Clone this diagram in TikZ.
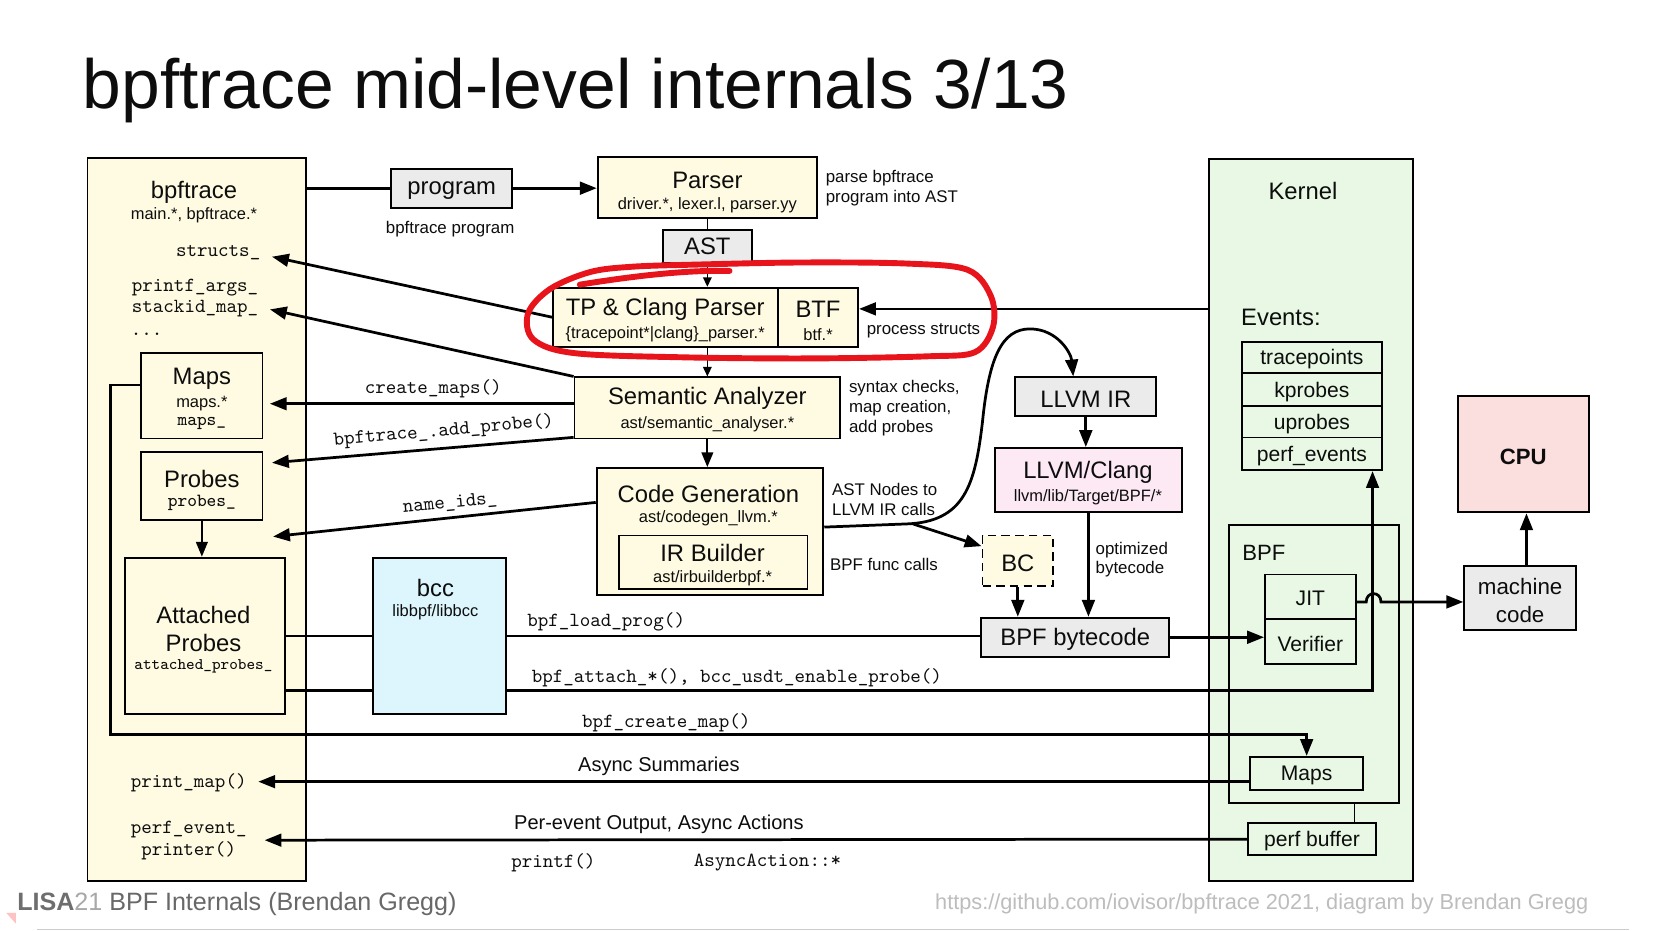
\documentclass[tikz,border=0pt]{standalone}
\usepackage{fontspec}
\setmainfont{Liberation Sans}
\usetikzlibrary{arrows.meta,fit,calc}
\definecolor{yel}{HTML}{FFFBE2}
\definecolor{gry}{HTML}{EBEBEB}
\definecolor{grn}{HTML}{E8F8E4}
\definecolor{pnk}{HTML}{FDE9F4}
\definecolor{cpuc}{HTML}{FBDEDE}
\definecolor{cyn}{HTML}{DDF5FC}
\definecolor{redm}{HTML}{E8141C}
\definecolor{fa}{HTML}{6E6E6E}
\definecolor{fb}{HTML}{A8A8A8}
\definecolor{fc}{HTML}{686868}
\definecolor{fd}{HTML}{BDBDBD}
\begin{document}
\begin{tikzpicture}[x=0.5pt,y=-0.5pt,
  bx/.style={draw=black,line width=0.9pt,inner sep=0pt},
  conn/.style={line width=1.3pt},
  thinc/.style={line width=0.8pt},
  medc/.style={line width=1.1pt},
  arrbig/.style={-{Triangle[length=8pt,width=6pt]}},
  arrsm/.style={-{Triangle[length=4.5pt,width=4pt]}},
  arrmd/.style={-{Triangle[length=7pt,width=5.5pt]}},
  txt/.style={inner sep=0pt,text=black!95,yshift=-1pt},
  tttl/.style={txt,font=\fontsize{11.3}{13}\selectfont},
  tsub/.style={txt,font=\fontsize{7.8}{9}\selectfont},
  tlab/.style={txt,font=\fontsize{8}{9.5}\selectfont},
  tmono/.style={txt,font=\ttfamily\fontsize{9.5}{11}\selectfont},
  tmonos/.style={txt,font=\ttfamily\fontsize{8.8}{10}\selectfont},
  tev/.style={txt,font=\fontsize{10}{12}\selectfont},
  tbig/.style={txt,font=\fontsize{9.5}{11}\selectfont},
]
\useasboundingbox (0,0) rectangle (1569,883);
\fill[white] (0,0) rectangle (1569,883);

% title
\node[inner sep=0pt,anchor=base west,font=\fontsize{33}{40}\selectfont,text=black!95] (title) at (78,103) {bpftrace mid-level internals 3/13};

% ---------- boxes ----------
\node[bx,fill=yel,fit={(83,150)(290,836)}] (bt) {};
\node[bx,fill=grn,fit={(1147,151)(1340,836)}] (kern) {};
\node[bx,fill=gry,fit={(371,160)(486,197)}] (prog) {};
\node[bx,fill=yel,fit={(567,149)(775,207)}] (parser) {};
\node[bx,fill=gry,fit={(629,218)(713,249)}] (ast) {};
\node[bx,fill=yel,fit={(525,273)(738,329)}] (tp) {};
\node[bx,fill=yel,fit={(738,273)(814,329)}] (btf) {};
\node[bx,fill=yel,fit={(545,358)(797,416)}] (sem) {};
\node[bx,fill=yel,fit={(566,444)(781,564)}] (cg) {};
\node[bx,fill=yel,fit={(587,508)(766,559)}] (irb) {};
\node[bx,fill=cyn,fit={(354,529)(480,677)}] (bcc) {};
\node[bx,fill=yel,fit={(134,335)(249,416)}] (maps) {};
\node[bx,fill=yel,fit={(134,429)(249,493)}] (probes) {};
\node[bx,fill=yel,fit={(119,529)(270,677)}] (att) {};
\node[bx,fill=gry,fit={(963,358)(1097,395)}] (llvmir) {};
\node[bx,fill=pnk,fit={(944,425)(1121,486)}] (llvm) {};
\node[bx,fill=yel,dash pattern=on 4pt off 2.5pt,fit={(932,508)(999,556)}] (bc) {};
\node[bx,fill=gry,fit={(931,586)(1109,623)}] (bcode) {};
\node[bx,fit={(1178,324)(1311,354)}] (ev1) {};
\node[bx,fit={(1178,354)(1311,385)}] (ev2) {};
\node[bx,fit={(1178,385)(1311,415)}] (ev3) {};
\node[bx,fit={(1178,415)(1311,446)}] (ev4) {};
\node[bx,fit={(1166,498)(1327,762)}] (bpf) {};
\node[bx,fit={(1200,545)(1286,587)}] (jit) {};
\node[bx,fit={(1200,587)(1286,630)}] (ver) {};
\node[bx,fit={(1186,718)(1293,749)}] (kmaps) {};
\node[bx,fit={(1184,781)(1305,811)}] (pbuf) {};
\node[bx,fill=cpuc,fit={(1383,376)(1507,486)}] (cpu) {};
\node[bx,fill=gry,fit={(1389,537)(1495,598)}] (mc) {};

% ---------- helper coordinates ----------
\coordinate (structsE) at (258,243.5);
\coordinate (stackE) at (256,293.5);
\coordinate (mapsE) at (256,383);
\coordinate (probesE) at (258,439);
\coordinate (nameE) at (259,509);
\coordinate (pmE) at (245,741.5);
\coordinate (peE) at (251,797);
\coordinate (btfa) at ($(btf.east)+(0,-8)$);
\coordinate (cmS) at ($(sem.west)+(0,-4)$);
\coordinate (apS) at ($(sem.south west)+(0,-2)$);
\coordinate (niS) at ($(cg.north west)+(0,33.5)$);
\coordinate (cgR) at ($(cg.east)+(0,-4)$);
\coordinate (br) at (866,497);
\coordinate (irin) at ($(llvmir.north west)+(56,0)$);
\coordinate (bcin) at ($(bc.north west)+(0,11)$);
\coordinate (mapsL) at ($(maps.north west)+(0,31)$);
\coordinate (lp) at (105,697);
\coordinate (attY) at (0,655);
\coordinate (evx) at (1302,655);
\coordinate (hopy) at (0,571);
\coordinate (mcx) at (1448,0);
\coordinate (pbx) at (1285,0);
\coordinate (pmS) at ($(kmaps.west)+(0,8)$);

% ---------- connectors ----------
\draw[conn] (prog.west -| bt.east) -- (prog.west);
\draw[conn,arrbig] (prog.east) -- (prog.east -| parser.west);
\draw[thinc] (parser.south -| ast.north) -- (ast.north);
\draw[thinc,arrsm] (ast.south) -- (ast.south |- tp.north);
\draw[thinc,arrsm] (ast.south |- tp.south) -- (ast.south |- sem.north);
\draw[line width=1pt,arrmd] (sem.south) -- (sem.south |- cg.north);
\draw[conn,arrbig] (btfa -| kern.west) -- (btfa);
\draw[conn,arrbig] (tp.west) -- (structsE);
\draw[conn,arrbig] (sem.north west) -- (stackE);
\draw[conn,arrbig] (cmS) -- (mapsE);
\draw[conn,arrbig] (apS) -- (probesE);
\draw[conn,arrbig] (niS) -- (nameE);
\draw[conn,arrbig] (mapsL) -| (lp) -- (lp -| kmaps.north) -- (kmaps.north);
\draw[line width=1pt,arrmd] (probes.south) -- (probes.south |- att.north);
\draw[medc] (att.east) -- (att.east -| bcc.west);
\draw[medc] (att.east -| bcc.east) -- (att.east -| bcode.west);
\draw[medc] (att.east |- attY) -- (bcc.west |- attY);
\draw[conn,arrbig] (bcc.east |- attY) -- (evx) -- (evx |- ev4.south);
\draw[conn,arrbig] (bcode.east) -- (bcode.east -| ver.west);
\draw[conn,arrbig] (jit.east |- hopy) -- (1296,571) .. controls (1296,560.5) and (1310,560.5) .. (1310,571) -- (mc.west |- hopy);
\draw[conn,arrbig] (mc.north -| mcx) -- (cpu.south -| mcx);
\draw[conn,arrbig] (llvmir.south) -- (llvmir.south |- llvm.north);
\draw[conn,arrbig] (llvm.south) -- (llvm.south |- bcode.north);
\draw[conn,arrbig] (bc.south) -- (bc.south |- bcode.north);
\draw[conn,arrbig] (cgR) -- (860,497) .. controls (915,495) and (925,460) .. (932,400) .. controls (938,340) and (950,312) .. (977,312) .. controls (1003,312) and (1016,335) .. (irin);
\draw[conn,arrbig] (br) -- (bcin);
\draw[conn,arrbig] (pmS) -- (pmE);
\draw[conn,arrbig] (pbuf.west) -- (peE);
\draw[thinc] (bpf.south -| pbx) -- (pbuf.north -| pbx);

% ---------- texts ----------
\node[tttl] (t-bt) at (184,180) {bpftrace};
\node[tsub] (t-bt2) at (184,202) {main.*, bpftrace.*};
\node[tmono] (t-structs) at (207,238) {structs\_};
\node[tmono] (t-pa) at (185,271) {printf\_args\_};
\node[tmono] (t-sm) at (185,291) {stackid\_map\_};
\node[tmono] (t-dots) at (139,315) {...};
\node[tttl] (t-maps) at (191.5,357) {Maps};
\node[tsub] (t-maps2) at (191.5,381) {maps.*};
\node[tmonos] (t-maps3) at (191.5,400) {maps\_};
\node[tttl] (t-probes) at (191.5,452) {Probes};
\node[tmonos] (t-probes2) at (191.5,475) {probes\_};
\node[tttl] (t-att1) at (193,581) {Attached};
\node[tttl] (t-att2) at (193,608) {Probes};
\node[txt,font=\ttfamily\fontsize{7.7}{9}\selectfont] (t-att3) at (193,630) {attached\_probes\_};
\node[tmono] (t-pm) at (179,741) {print\_map()};
\node[tmono] (t-pe1) at (179,785) {perf\_event\_};
\node[tmono] (t-pe2) at (179,805) {printer()};

\node[tttl] (t-prog) at (prog) {program};
\node[tlab] (t-bprog) at (427,215) {bpftrace program};
\node[tttl] (t-parser) at (671,169) {Parser};
\node[tsub] (t-parser2) at (671,193) {driver.*, lexer.l, parser.yy};
\node[tlab,anchor=west] (t-pp1) at (783,167) {parse bpftrace};
\node[tlab,anchor=west] (t-pp2) at (783,186) {program into AST};
\node[txt,font=\fontsize{11.3}{13}\selectfont] (t-ast) at ($(ast)+(0,-2)$) {AST};
\node[tttl] (t-tp) at (631,291) {TP \& Clang Parser};
\node[tsub] (t-tp2) at (631,315) {\{tracepoint*|clang\}\_parser.*};
\node[tttl] (t-btf) at (776,291) {BTF};
\node[tsub] (t-btf2) at (776,315) {btf.*};
\node[tlab] (t-ps) at (876,312) {process structs};
\node[tttl] (t-sem) at (671,376) {Semantic Analyzer};
\node[tsub] (t-sem2) at (671,400) {ast/semantic\_analyser.*};
\node[tlab,anchor=west] (t-sc1) at (805,366) {syntax checks,};
\node[tlab,anchor=west] (t-sc2) at (805,385) {map creation,};
\node[tlab,anchor=west] (t-sc3) at (805,404) {add probes};
\node[tmono] (t-cm) at (411,367) {create\_maps()};
\node[tmono,rotate=5] (t-ap) at (421,407) {bpftrace\_.add\_probe()};
\node[tmono,rotate=5.5] (t-ni) at (427,476) {name\_ids\_};
\node[tttl] (t-cg) at (672,467) {Code Generation};
\node[tsub] (t-cg2) at (672,490) {ast/codegen\_llvm.*};
\node[tttl] (t-irb) at (676,523) {IR Builder};
\node[tsub] (t-irb2) at (676,547) {ast/irbuilderbpf.*};
\node[tlab,anchor=west] (t-an1) at (789,462) {AST Nodes to};
\node[tlab,anchor=west] (t-an2) at (789,481) {LLVM IR calls};
\node[tlab,anchor=west] (t-bfc) at (787,533) {BPF func calls};
\node[tttl] (t-bcc) at (413,556) {bcc};
\node[tsub] (t-bcc2) at (413,579) {libbpf/libbcc};
\node[tmono] (t-blp) at (575,588) {bpf\_load\_prog()};
\node[tmono] (t-bat) at (699,641) {bpf\_attach\_*(), bcc\_usdt\_enable\_probe()};
\node[tmono] (t-bcm) at (632,684) {bpf\_create\_map()};
\node[tbig] (t-as) at (625,725) {Async Summaries};
\node[tbig] (t-peo) at (625,780) {Per-event Output, Async Actions};
\node[tmono] (t-pf) at (525,816) {printf()};
\node[tmono] (t-aa) at (728,816) {AsyncAction::*};

\node[tttl] (t-llvmir) at (llvmir) {LLVM IR};
\node[tttl] (t-llvm) at (1032,446) {LLVM/Clang};
\node[tsub] (t-llvm2) at (1032,470) {llvm/lib/Target/BPF/*};
\node[tttl] (t-bc) at (bc) {BC};
\node[tttl] (t-bcode) at (bcode) {BPF bytecode};
\node[tlab,anchor=west] (t-op1) at (1039,520) {optimized};
\node[tlab,anchor=west] (t-op2) at (1039,538) {bytecode};

\node[tttl] (t-kern) at (1236,179) {Kernel};
\node[tttl,anchor=west] (t-ev) at (1177,299) {Events:};
\node[tev] (t-ev1) at (ev1) {tracepoints};
\node[tev] (t-ev2) at (ev2) {kprobes};
\node[tev] (t-ev3) at (ev3) {uprobes};
\node[tev] (t-ev4) at (ev4) {perf\_events};
\node[txt,anchor=west,font=\fontsize{10.5}{12}\selectfont] (t-bpf) at (1178,522) {BPF};
\node[tev] (t-jit) at (jit) {JIT};
\node[tev] (t-ver) at (ver) {Verifier};
\node[tev] (t-kmaps) at (kmaps) {Maps};
\node[tev] (t-pbuf) at (pbuf) {perf buffer};
\node[txt,font=\bfseries\fontsize{10.5}{12}\selectfont] (t-cpu) at (cpu) {CPU};
\node[txt,font=\fontsize{10.6}{12}\selectfont] (t-mc1) at (1442,554) {machine};
\node[txt,font=\fontsize{10.6}{12}\selectfont] (t-mc2) at (1442,581) {code};

% ---------- footer ----------
\fill[fill=pink!80!red!60] (6,866) -- (15,866) -- (15,876) -- cycle;
\node[anchor=base west,inner sep=0pt,font=\fontsize{11.9}{13}\selectfont] (foot) at (16,864) {\textcolor{fa}{\bfseries LISA}\textcolor{fb}{21} \textcolor{fc}{BPF Internals (Brendan Gregg)}};
\node[anchor=base east,inner sep=0pt,font=\fontsize{10.3}{12}\selectfont,text=fd] (foot2) at (1507,863) {https://github.com/iovisor/bpftrace 2021, diagram by Brendan Gregg};
\draw[line width=0.6pt,black!20] (35,881.5) -- (1545,881.5);

% ---------- red annotation ----------
\draw[redm,line width=2.8pt,line cap=round,line join=round] plot[smooth cycle,tension=0.55] coordinates {(560,258) (522,274) (501,297) (506,322) (545,335) (650,339) (770,340) (880,338) (925,334) (942,310) (940,281) (918,256) (860,250) (760,249) (660,251) (600,253)};
\draw[redm,line width=2.8pt,line cap=round] (550,270) .. controls (600,262) and (650,256) .. (692,257);
\end{tikzpicture}
\end{document}
